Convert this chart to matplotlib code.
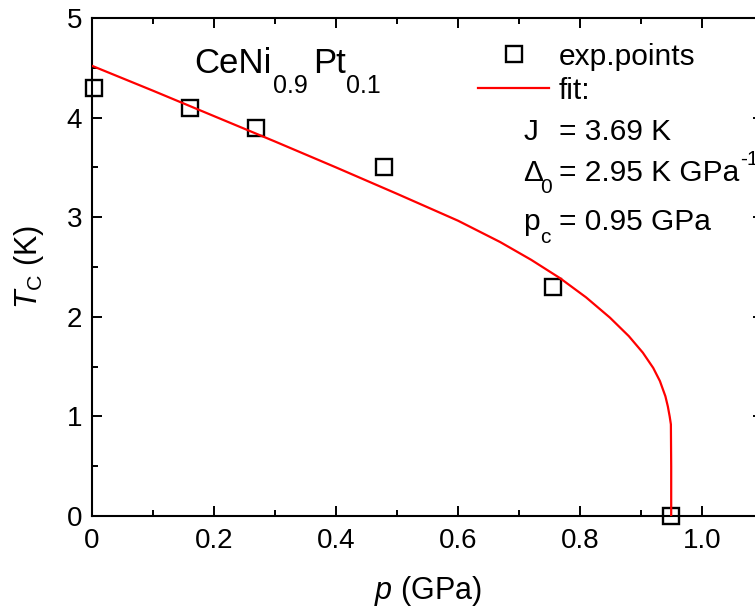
import numpy as np
import matplotlib
matplotlib.use('Agg')
import matplotlib.pyplot as plt
from matplotlib.transforms import offset_copy

plt.rcParams['font.family'] = ['Liberation Sans', 'DejaVu Sans']
plt.rcParams['mathtext.fontset'] = 'custom'
plt.rcParams['mathtext.rm'] = 'Liberation Sans'
plt.rcParams['mathtext.it'] = 'Liberation Sans:italic'
plt.rcParams['mathtext.bf'] = 'Liberation Sans:bold'

# experimental points
p_exp = [0.004, 0.16, 0.269, 0.479, 0.756, 0.949]
tc_exp = [4.3, 4.1, 3.9, 3.5, 2.3, 0.0]

# fit curve
p_fit = [0.0, 0.1, 0.2, 0.3, 0.4, 0.5, 0.6, 0.669, 0.72, 0.767, 0.81,
         0.849, 0.88, 0.903, 0.92, 0.931, 0.94, 0.944, 0.947, 0.949, 0.9495, 0.9495]
tc_fit = [4.52, 4.27, 4.015, 3.76, 3.50, 3.235, 2.965, 2.751, 2.572, 2.389, 2.195,
          1.992, 1.806, 1.640, 1.487, 1.355, 1.202, 1.10, 1.00, 0.92, 0.5, 0.0]

fig = plt.figure(figsize=(7.55, 6.14), dpi=100)
ax = fig.add_axes([92/755, 98/614, 671/755, 498/614])
renderer = fig.canvas.get_renderer()


def rich(x, y, parts):
    # parts: (text, fontsize, baseline shift in pt, gap before in pt)
    dx = 0.0
    for s, size, dy, gap in parts:
        dx += gap
        tr = offset_copy(ax.transAxes, fig=fig, x=dx, y=dy, units='points')
        t = ax.text(x, y, s, transform=tr, fontsize=size, va='baseline', ha='left')
        dx += t.get_window_extent(renderer).width * 72 / fig.dpi


ax.plot(p_exp, tc_exp, 's', ms=12, mfc='none', mec='black', mew=1.7,
        label='exp.points', clip_on=False, zorder=3)
ax.plot(p_fit, tc_fit, '-', color='red', lw=1.6, label='fit:', zorder=4)

ax.set_xlim(0, 1.1)
ax.set_ylim(0, 5)
ax.set_xticks([0, 0.2, 0.4, 0.6, 0.8, 1.0])
ax.set_xticklabels(['0', '0.2', '0.4', '0.6', '0.8', '1.0'])
ax.set_xticks(np.arange(0.1, 1.1, 0.2), minor=True)
ax.set_yticks([0, 1, 2, 3, 4, 5])
ax.set_yticks(np.arange(0.5, 5, 1.0), minor=True)
ax.tick_params(which='both', direction='in', top=True, right=True, labelsize=20, width=1.4)
ax.tick_params(which='major', length=7)
ax.tick_params(axis='x', which='major', pad=9)
ax.tick_params(axis='y', which='major', pad=7)
ax.tick_params(which='minor', length=4)
for s in ax.spines.values():
    s.set_linewidth(1.5)

ax.set_xlabel(r'$p$ (GPa)', fontsize=22, labelpad=14)
ax.set_ylabel(r'$T_{\mathrm{C}}$ (K)', fontsize=22, labelpad=15)

# compound name
rich(0.152, 0.889, [('CeNi', 25, 0, 0), ('0.9', 18, -14, 1.0),
                     ('Pt', 25, 0, 4.0), ('0.1', 18, -14, 0.3)])

leg = ax.legend(loc='upper left', bbox_to_anchor=(0.575, 0.95), frameon=False,
                fontsize=21.5, handlelength=2.4, handletextpad=0.3, borderpad=0,
                borderaxespad=0, labelspacing=0.2)

# fit parameters
x0, xe = 0.643, 0.696
rich(x0, 0.755, [('J', 21.5, 0, 0)])
rich(xe, 0.755, [('= 3.69 K', 21.5, 0, 0)])
rich(x0, 0.673, [('\u0394', 21.5, 0, 0), ('0', 15, -9, -2)])
rich(xe, 0.673, [('= 2.95 K GPa', 21.5, 0, 0), ('-1', 15, 11.5, 0.5)])
rich(x0, 0.574, [('p', 21.5, 0, 0), ('c', 15, -9, 0.3)])
rich(xe, 0.574, [('= 0.95 GPa', 21.5, 0, 0)])

fig.savefig('out.png', dpi=100)
